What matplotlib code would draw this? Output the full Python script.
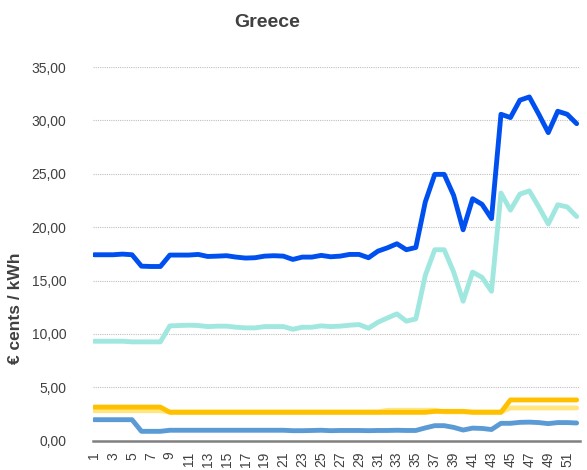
import matplotlib
matplotlib.use("Agg")
import matplotlib.pyplot as plt

plt.rcParams["font.family"] = ["Liberation Sans", "DejaVu Sans"]

weeks = list(range(1, 53))

dark_blue = [
    17.42, 17.42, 17.42, 17.48, 17.42, 16.35, 16.32, 16.32, 17.39, 17.39,
    17.39, 17.45, 17.26, 17.29, 17.33, 17.20, 17.11, 17.14, 17.29, 17.33,
    17.29, 16.98, 17.20, 17.20, 17.36, 17.23, 17.29, 17.45, 17.45, 17.14,
    17.76, 18.07, 18.45, 17.89, 18.10, 22.36, 24.95, 24.95, 22.98, 19.76,
    22.67, 22.14, 20.80, 30.58, 30.27, 31.90, 32.20, 30.58, 28.86, 30.86,
    30.58, 29.70,
]
teal = [
    9.32, 9.32, 9.32, 9.32, 9.26, 9.26, 9.26, 9.26, 10.76, 10.79,
    10.82, 10.79, 10.69, 10.73, 10.73, 10.63, 10.57, 10.57, 10.69, 10.69,
    10.69, 10.44, 10.63, 10.63, 10.76, 10.69, 10.73, 10.82, 10.88, 10.54,
    11.10, 11.50, 11.88, 11.20, 11.41, 15.48, 17.89, 17.89, 15.80, 13.07,
    15.80, 15.30, 14.00, 23.20, 21.60, 23.10, 23.40, 21.90, 20.30, 22.10,
    21.90, 21.00,
]
dark_yellow = [3.15] * 8 + [2.66] * 28 + [2.75] * 4 + [2.66] * 4 + [3.82] * 8
light_yellow = [2.81] * 8 + [2.70] * 23 + [2.85] * 6 + [2.70] * 7 + [3.07] * 8
mid_blue = [
    1.97, 1.97, 1.97, 1.97, 1.97, 0.88, 0.88, 0.88, 0.98, 0.98,
    0.98, 0.98, 0.98, 0.98, 0.98, 0.98, 0.98, 0.98, 0.98, 0.98,
    0.98, 0.94, 0.94, 0.96, 0.98, 0.94, 0.96, 0.96, 0.96, 0.94,
    0.96, 0.96, 0.98, 0.96, 0.96, 1.20, 1.41, 1.41, 1.25, 1.00,
    1.18, 1.15, 1.05, 1.63, 1.63, 1.72, 1.74, 1.70, 1.60, 1.70,
    1.70, 1.66,
]

y_ticks = [0, 5, 10, 15, 20, 25, 30, 35]
y_tick_labels = ["0,00", "5,00", "10,00", "15,00", "20,00", "25,00", "30,00", "35,00"]
x_ticks = list(range(1, 53, 2))

fig = plt.figure(figsize=(5.87, 4.70), dpi=100)
ax = fig.add_axes([0.158, 0.0623, 0.830, 0.795])

lw = 3.5
style = dict(lw=lw, solid_capstyle="round", solid_joinstyle="round")
ax.plot(weeks, dark_blue, color="#0050F0", zorder=5, **style)
ax.plot(weeks, teal, color="#A0E8DF", zorder=4, **style)
ax.plot(weeks, light_yellow, color="#FFE680", zorder=2, **style)
ax.plot(weeks, dark_yellow, color="#FFC000", zorder=3, **style)
ax.plot(weeks, mid_blue, color="#5B9BD5", zorder=3, **style)

ax.set_ylim(0, 35)
ax.set_xlim(0.85, 52.35)
ax.set_yticks(y_ticks)
ax.set_yticklabels(y_tick_labels)
ax.set_xticks(x_ticks)
ax.set_xticklabels([str(x) for x in x_ticks], rotation=90)

ax.grid(axis="y", color="#BFBFBF", linestyle=(0, (1, 1)), linewidth=0.8)
ax.set_axisbelow(True)
for side in ["top", "right", "left"]:
    ax.spines[side].set_visible(False)
ax.spines["bottom"].set_color("#808080")
ax.spines["bottom"].set_linewidth(1.8)

ax.tick_params(axis="y", length=0, pad=19, labelsize=10, labelcolor="#404040")
ax.tick_params(axis="x", length=0, pad=8, labelsize=10, labelcolor="#404040")

fig.text(0.455, 0.953, "Greece", ha="center", va="center",
         fontsize=14, fontweight="bold", color="#404040")
fig.text(0.027, 0.345, "€ cents / kWh", ha="center", va="center", rotation=90,
         fontsize=12.5, fontweight="bold", color="#404040")

fig.savefig("out.png", dpi=100)
